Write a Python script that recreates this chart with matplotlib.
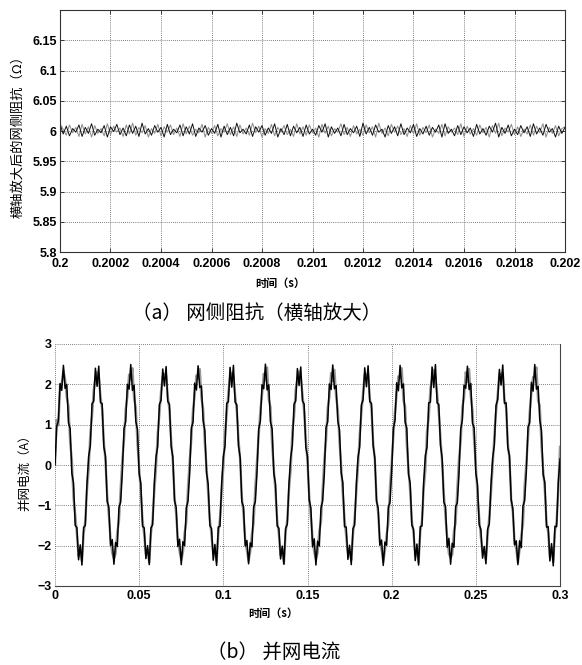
import matplotlib
matplotlib.use('Agg')
import matplotlib.pyplot as plt
import numpy as np

# (a) grid-side impedance, zoomed time axis 0.2 .. 0.202 s
imp_black = [
    6.011, 5.995, 6.008, 5.992, 6.004, 5.998, 6.010, 5.991, 6.006, 5.996, 6.012, 5.993, 6.003, 5.997, 6.009, 5.990, 6.007, 5.999, 6.011, 5.994,
    6.005, 5.992, 6.010, 5.996, 6.008, 5.991, 6.013, 5.995, 6.004, 5.993, 6.009, 5.998, 6.006, 5.990, 6.011, 5.994, 6.003, 5.997, 6.010, 5.992,
    6.007, 5.995, 6.012, 5.991, 6.005, 5.998, 6.009, 5.993, 6.004, 5.996, 6.011, 5.990, 6.008, 5.994, 6.006, 5.992, 6.013, 5.997, 6.003, 5.995,
    6.010, 5.991, 6.007, 5.998, 6.009, 5.993, 6.005, 5.996, 6.012, 5.990, 6.004, 5.994, 6.011, 5.992, 6.008, 5.997, 6.006, 5.991, 6.010, 5.995,
    6.003, 5.993, 6.009, 5.998, 6.012, 5.990, 6.007, 5.996, 6.005, 5.992, 6.011, 5.994, 6.004, 5.997, 6.008, 5.991, 6.013, 5.995, 6.006, 5.993,
    6.010, 5.998, 6.003, 5.990, 6.009, 5.996, 6.007, 5.992, 6.012, 5.994, 6.005, 5.997, 6.011, 5.991, 6.004, 5.995, 6.008, 5.993, 6.006, 5.998,
    6.010, 5.990, 6.012, 5.996, 6.003, 5.992, 6.009, 5.994, 6.007, 5.997, 6.005, 5.991, 6.011, 5.995, 6.004, 5.993, 6.008, 5.998, 6.013, 5.990,
    6.006, 5.996, 6.010, 5.992, 6.003, 5.994, 6.009, 5.997, 6.007, 5.991, 6.012, 5.995, 6.005, 5.993, 6.011, 5.998, 6.004, 5.990, 6.008, 5.996,
    6.006,
]
imp_gray = [
    6.012, 6.003, 5.993, 6.010, 5.997, 6.006, 5.991, 6.011, 5.995, 6.007, 5.990, 6.009, 5.996, 6.004, 5.992, 6.012, 5.994, 6.008, 5.998, 6.005,
    5.991, 6.010, 5.995, 6.013, 5.993, 6.006, 5.997, 6.009, 5.990, 6.004, 5.996, 6.011, 5.992, 6.007, 5.998, 6.010, 5.994, 6.005, 5.991, 6.012,
    5.995, 6.008, 5.993, 6.003, 5.997, 6.011, 5.990, 6.006, 5.996, 6.009, 5.992, 6.004, 5.998, 6.012, 5.994, 6.007, 5.991, 6.010, 5.995, 6.005,
    5.993, 6.013, 5.997, 6.008, 5.990, 6.004, 5.996, 6.011, 5.992, 6.006, 5.998, 6.009, 5.994, 6.003, 5.991, 6.012, 5.995, 6.007, 5.993, 6.010,
    5.997, 6.005, 5.990, 6.011, 5.996, 6.008, 5.992, 6.004, 5.998, 6.012, 5.994, 6.006, 5.991, 6.009, 5.995, 6.003, 5.993, 6.010, 5.997, 6.007,
    5.990, 6.013, 5.996, 6.005, 5.992, 6.011, 5.998, 6.008, 5.994, 6.004, 5.991, 6.009, 5.995, 6.012, 5.993, 6.006, 5.997, 6.010, 5.990, 6.003,
    5.996, 6.011, 5.992, 6.007, 5.998, 6.005, 5.994, 6.012, 5.991, 6.008, 5.995, 6.004, 5.993, 6.010, 5.997, 6.006, 5.990, 6.009, 5.996, 6.013,
    5.992, 6.005, 5.998, 6.011, 5.994, 6.007, 5.991, 6.003, 5.995, 6.010, 5.993, 6.008, 5.997, 6.012, 5.990, 6.006, 5.996, 6.009, 5.992, 6.004,
    6.007,
]
imp_xticks = [0.2, 0.2002, 0.2004, 0.2006, 0.2008, 0.201, 0.2012, 0.2014, 0.2016, 0.2018, 0.202]
imp_xlabels = ['0.2', '0.2002', '0.2004', '0.2006', '0.2008', '0.201', '0.2012', '0.2014', '0.2016', '0.2018', '0.202']
imp_yticks = [5.8, 5.85, 5.9, 5.95, 6.0, 6.05, 6.1, 6.15]
imp_ylabels = ['5.8', '5.85', '5.9', '5.95', '6', '6.05', '6.1', '6.15']

# (b) grid current, 0 .. 0.3 s, one sample per ms (20 per 50 Hz cycle)
cur_black = [
    0.00, 0.95, 1.10, 2.02, 1.85, 2.47, 1.90, 2.00, 1.05, 0.90, -0.20, -0.45, -1.50, -1.55, -2.35, -1.98, -2.48, -1.55, -1.50, -0.45,
    0.22, 0.48, 1.52, 1.58, 2.40, 1.95, 2.45, 1.55, 1.52, 0.45, 0.22, -0.90, -1.05, -2.00, -1.85, -2.46, -1.92, -2.02, -1.05, -0.92,
    -0.18, 0.90, 1.08, 2.00, 1.88, 2.49, 1.85, 1.98, 1.08, 0.88, -0.22, -0.46, -1.52, -1.56, -2.32, -2.00, -2.47, -1.56, -1.48, -0.44,
    0.20, 0.46, 1.50, 1.60, 2.38, 1.96, 2.44, 1.58, 1.50, 0.46, 0.20, -0.88, -1.06, -2.02, -1.84, -2.47, -1.90, -2.00, -1.06, -0.90,
    -0.20, 0.92, 1.06, 2.03, 1.86, 2.46, 1.92, 1.96, 1.10, 0.86, -0.18, -0.48, -1.50, -1.58, -2.36, -1.97, -2.49, -1.54, -1.52, -0.46,
    0.21, 0.47, 1.53, 1.57, 2.42, 1.93, 2.47, 1.56, 1.49, 0.47, 0.19, -0.91, -1.04, -2.01, -1.87, -2.45, -1.93, -2.03, -1.04, -0.91,
    -0.19, 0.89, 1.09, 1.99, 1.89, 2.50, 1.86, 1.99, 1.07, 0.89, -0.21, -0.47, -1.51, -1.57, -2.33, -2.01, -2.46, -1.57, -1.47, -0.45,
    0.18, 0.49, 1.51, 1.59, 2.39, 1.97, 2.43, 1.59, 1.51, 0.44, 0.21, -0.87, -1.07, -2.03, -1.83, -2.48, -1.89, -2.01, -1.07, -0.89,
    -0.21, 0.93, 1.07, 2.01, 1.87, 2.48, 1.89, 1.97, 1.09, 0.87, -0.19, -0.44, -1.53, -1.54, -2.34, -1.99, -2.47, -1.58, -1.49, -0.47,
    0.19, 0.45, 1.49, 1.61, 2.41, 1.94, 2.46, 1.57, 1.53, 0.48, 0.18, -0.89, -1.08, -1.99, -1.86, -2.49, -1.91, -1.99, -1.05, -0.93,
    -0.17, 0.91, 1.11, 2.04, 1.84, 2.47, 1.91, 2.01, 1.06, 0.91, -0.23, -0.45, -1.49, -1.59, -2.37, -1.96, -2.48, -1.53, -1.51, -0.43,
    0.23, 0.44, 1.54, 1.56, 2.43, 1.92, 2.49, 1.54, 1.50, 0.49, 0.17, -0.92, -1.03, -2.04, -1.82, -2.46, -1.94, -2.04, -1.03, -0.94,
    -0.22, 0.88, 1.12, 1.98, 1.90, 2.45, 1.87, 2.02, 1.04, 0.92, -0.20, -0.49, -1.48, -1.60, -2.31, -2.02, -2.45, -1.59, -1.46, -0.48,
    0.17, 0.50, 1.48, 1.62, 2.37, 1.98, 2.48, 1.53, 1.54, 0.43, 0.23, -0.86, -1.09, -1.98, -1.88, -2.47, -1.88, -2.05, -1.02, -0.88,
    -0.16, 0.94, 1.05, 2.05, 1.83, 2.49, 1.88, 1.95, 1.11, 0.85, -0.24, -0.43, -1.54, -1.53, -2.38, -1.95, -2.50, -1.52, -1.53, -0.42,
    0.15,
]
cur_gray = [
    0.00, 1.12, 0.98, 1.96, 2.02, 2.34, 2.12, 1.68, 1.46, 0.56, 0.14, -0.82, -1.22, -1.70, -2.26, -2.06, -2.38, -1.72, -1.38, -0.62,
    -0.10, 0.80, 1.20, 1.86, 2.16, 2.30, 2.18, 1.72, 1.38, 0.60, 0.08, -0.76, -1.26, -1.84, -2.18, -2.32, -2.20, -1.66, -1.40, -0.58,
    0.12, 0.62, 1.40, 1.70, 2.24, 2.12, 2.40, 1.64, 1.42, 0.52, -0.06, -0.70, -1.36, -1.74, -2.22, -2.10, -2.42, -1.70, -1.34, -0.64,
    -0.08, 0.78, 1.24, 1.82, 2.20, 2.26, 2.22, 1.70, 1.36, 0.62, 0.10, -0.78, -1.24, -1.86, -2.14, -2.36, -2.16, -1.68, -1.42, -0.56,
    0.10, 0.64, 1.38, 1.72, 2.22, 2.14, 2.38, 1.66, 1.40, 0.54, -0.04, -0.72, -1.34, -1.76, -2.20, -2.12, -2.40, -1.72, -1.32, -0.66,
    -0.06, 0.76, 1.26, 1.80, 2.18, 2.28, 2.20, 1.74, 1.34, 0.64, 0.12, -0.80, -1.22, -1.88, -2.12, -2.38, -2.14, -1.70, -1.44, -0.54,
    0.08, 0.66, 1.36, 1.74, 2.26, 2.10, 2.42, 1.62, 1.44, 0.50, -0.08, -0.68, -1.38, -1.72, -2.24, -2.08, -2.44, -1.68, -1.36, -0.62,
    -0.12, 0.82, 1.18, 1.88, 2.14, 2.32, 2.16, 1.76, 1.32, 0.66, 0.06, -0.74, -1.28, -1.82, -2.16, -2.34, -2.18, -1.64, -1.42, -0.60,
    0.14, 0.60, 1.42, 1.68, 2.28, 2.08, 2.36, 1.68, 1.38, 0.58, -0.02, -0.74, -1.32, -1.78, -2.18, -2.14, -2.36, -1.74, -1.30, -0.68,
    -0.04, 0.74, 1.28, 1.78, 2.24, 2.24, 2.26, 1.66, 1.40, 0.56, 0.12, -0.84, -1.20, -1.90, -2.10, -2.40, -2.12, -1.72, -1.46, -0.52,
    0.06, 0.68, 1.34, 1.76, 2.20, 2.16, 2.40, 1.60, 1.46, 0.48, -0.10, -0.66, -1.40, -1.70, -2.26, -2.06, -2.42, -1.66, -1.38, -0.60,
    -0.14, 0.84, 1.16, 1.90, 2.12, 2.36, 2.14, 1.78, 1.30, 0.68, 0.04, -0.72, -1.30, -1.80, -2.20, -2.30, -2.22, -1.62, -1.44, -0.58,
    0.16, 0.58, 1.44, 1.66, 2.30, 2.06, 2.38, 1.70, 1.36, 0.60, 0.00, -0.76, -1.30, -1.80, -2.16, -2.16, -2.34, -1.76, -1.28, -0.70,
    -0.02, 0.72, 1.30, 1.76, 2.26, 2.22, 2.28, 1.64, 1.42, 0.54, 0.14, -0.86, -1.18, -1.92, -2.08, -2.42, -2.10, -1.74, -1.48, -0.50,
    0.04, 0.70, 1.32, 1.78, 2.18, 2.18, 2.42, 1.58, 1.48, 0.46, -0.12, -0.64, -1.42, -1.68, -2.28, -2.04, -2.40, -1.64, -1.40, -0.58,
    0.45,
]
cur_xticks = [0, 0.05, 0.1, 0.15, 0.2, 0.25, 0.3]
cur_xlabels = ['0', '0.05', '0.1', '0.15', '0.2', '0.25', '0.3']
cur_yticks = [-3, -2, -1, 0, 1, 2, 3]

# tick labels: bold Arial-like
plt.rcParams['font.family'] = ['Liberation Sans', 'DejaVu Sans']
plt.rcParams['font.weight'] = 'bold'
plt.rcParams['xtick.labelsize'] = 9
plt.rcParams['ytick.labelsize'] = 9

cjk = ['Noto Sans CJK SC', 'DejaVu Sans']
W, H = 582, 665

fig = plt.figure(figsize=(W / 100, H / 100), dpi=100)


def style_axes(ax):
    ax.tick_params(direction='in', length=3, width=0.6, color='#222222', labelcolor='black')
    ax.tick_params(axis='x', pad=4)
    ax.tick_params(axis='y', pad=2.5)
    ax.grid(True, color='#555555', linestyle=(0, (1, 1.5)), linewidth=0.6)
    ax.set_axisbelow(True)


# top panel
ax1 = fig.add_axes([60 / W, 1 - 252 / H, 505 / W, 242 / H])
t1 = np.linspace(0.2, 0.202, len(imp_black))
ax1.plot(t1, imp_gray, color='#8f8f8f', linewidth=0.75)
ax1.plot(t1, imp_black, color='#111111', linewidth=0.7)
ax1.set_xlim(0.2, 0.202)
ax1.set_ylim(5.8, 6.2)
ax1.set_xticks(imp_xticks)
ax1.set_xticklabels(imp_xlabels)
ax1.set_yticks(imp_yticks)
ax1.set_yticklabels(imp_ylabels)
ax1.tick_params(top=True, right=True)
for s in ax1.spines.values():
    s.set_color('#333333')
    s.set_linewidth(0.8)
style_axes(ax1)

# bottom panel
ax2 = fig.add_axes([55 / W, 1 - 586 / H, 505 / W, 242 / H])
t2 = np.linspace(0, 0.3, len(cur_black))
ax2.plot(t2, cur_gray, color='#999999', linewidth=1.7)
ax2.plot(t2, cur_black, color='#000000', linewidth=1.1)
ax2.set_xlim(0, 0.3)
ax2.set_ylim(-3, 3)
ax2.set_xticks(cur_xticks)
ax2.set_xticklabels(cur_xlabels)
ax2.set_yticks(cur_yticks)
ax2.spines['top'].set_visible(False)
ax2.spines['left'].set_visible(False)
for s in ('bottom', 'right'):
    ax2.spines[s].set_color('#444444')
    ax2.spines[s].set_linewidth(0.8)
style_axes(ax2)
ax2.tick_params(left=False, bottom=False)
ax2.tick_params(axis='x', pad=3)

# labels and captions
fig.text(18 / W, 1 - 133 / H, '横轴放大后的网侧阻抗（Ω）', rotation=90, ha='center', va='center',
         family=cjk, fontsize=9.5, fontweight='normal')
fig.text(280 / W, 1 - 283 / H, '时间（s）', ha='center', va='center', family=cjk, fontsize=8, fontweight='bold')
fig.text(257 / W, 1 - 313 / H, '（a） 网侧阻抗（横轴放大）', ha='center', va='center', family=cjk,
         fontsize=14, fontweight='light')

fig.text(25 / W, 1 - 470 / H, '并网电流（A）', rotation=90, ha='center', va='center', family=cjk,
         fontsize=9, fontweight='normal')
fig.text(273 / W, 1 - 613 / H, '时间（s）', ha='center', va='center', family=cjk, fontsize=8, fontweight='bold')
fig.text(274 / W, 1 - 652 / H, '（b） 并网电流', ha='center', va='center', family=cjk,
         fontsize=14, fontweight='light')

fig.savefig('out.png', dpi=100)
